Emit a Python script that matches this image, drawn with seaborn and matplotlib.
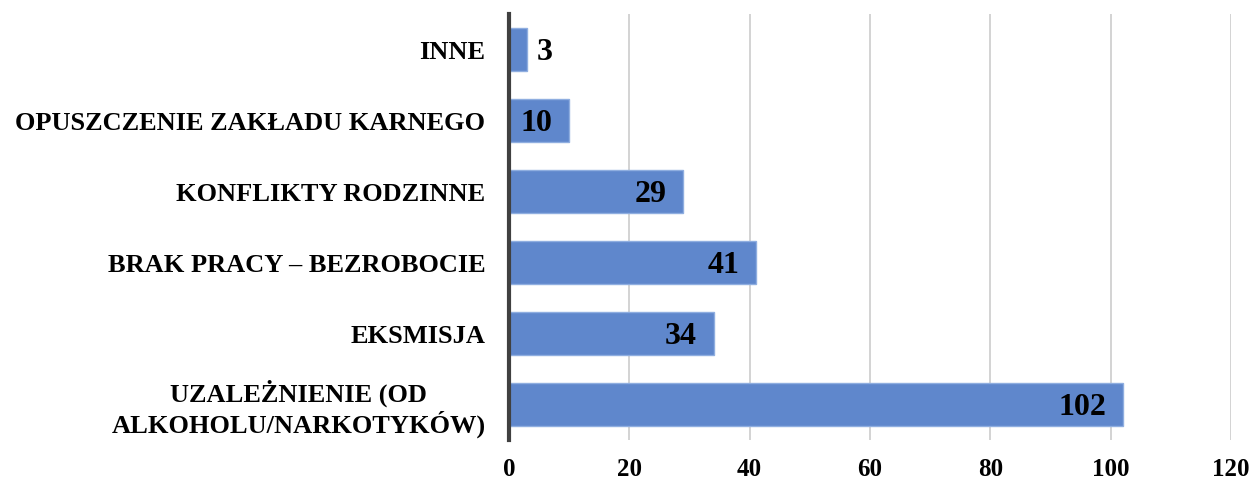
import pandas as pd
import matplotlib.pyplot as plt
import seaborn as sns

categories = [
    'INNE',
    'OPUSZCZENIE ZAKŁADU KARNEGO',
    'KONFLIKTY RODZINNE',
    'BRAK PRACY – BEZROBOCIE',
    'EKSMISJA',
    'UZALEŻNIENIE (OD\nALKOHOLU/NARKOTYKÓW)',
]
values = [3, 10, 29, 41, 34, 102]
x_ticks = [0, 20, 40, 60, 80, 100, 120]

df = pd.DataFrame({'przyczyna': categories, 'liczba': values})

sns.set_theme(style='white')
plt.rcParams['font.family'] = ['Liberation Serif', 'DejaVu Serif']
plt.rcParams['font.weight'] = 'bold'
plt.rcParams['text.color'] = 'black'

fig = plt.figure(figsize=(12.52, 4.83), dpi=100)
ax = fig.add_axes([0.4066, 0.089, 0.5765, 0.882])

sns.barplot(data=df, x='liczba', y='przyczyna', color='#5F87CC',
            saturation=1, width=0.6, edgecolor='#8FAEE0', linewidth=1,
            ax=ax, zorder=3)

ax.set_xlim(0, 120)
ax.set_xticks(x_ticks)
ax.set_ylim(len(categories) - 0.5, -0.5)
ax.xaxis.grid(True, color='#CCCCCC', linewidth=1.2, zorder=0)
ax.set_axisbelow(True)

for side in ['top', 'right', 'bottom']:
    ax.spines[side].set_visible(False)
ax.spines['left'].set_color('#404040')
ax.spines['left'].set_linewidth(3)
ax.spines['left'].set_zorder(5)

ax.set_xlabel('')
ax.set_ylabel('')
ax.tick_params(axis='both', length=0, labelcolor='black')
ax.tick_params(axis='y', pad=17, labelsize=19)
ax.tick_params(axis='x', pad=13, labelsize=18)
for lab in ax.get_yticklabels():
    lab.set_fontweight('bold')
    lab.set_multialignment('center')
    lab.set_linespacing(1.15)
for lab in ax.get_xticklabels():
    lab.set_fontweight('bold')

# value labels: inside the bar end, outside for very short bars
for i, v in enumerate(values):
    if v < 6:
        ax.annotate(str(v), (v, i), xytext=(7, -2), textcoords='offset points',
                    ha='left', va='center', fontsize=23, fontweight='bold',
                    color='black')
    else:
        ax.annotate(str(v), (v, i), xytext=(-12, -2),
                    textcoords='offset points',
                    ha='right', va='center', fontsize=23, fontweight='bold',
                    color='black')

fig.savefig('out.png', dpi=100)
